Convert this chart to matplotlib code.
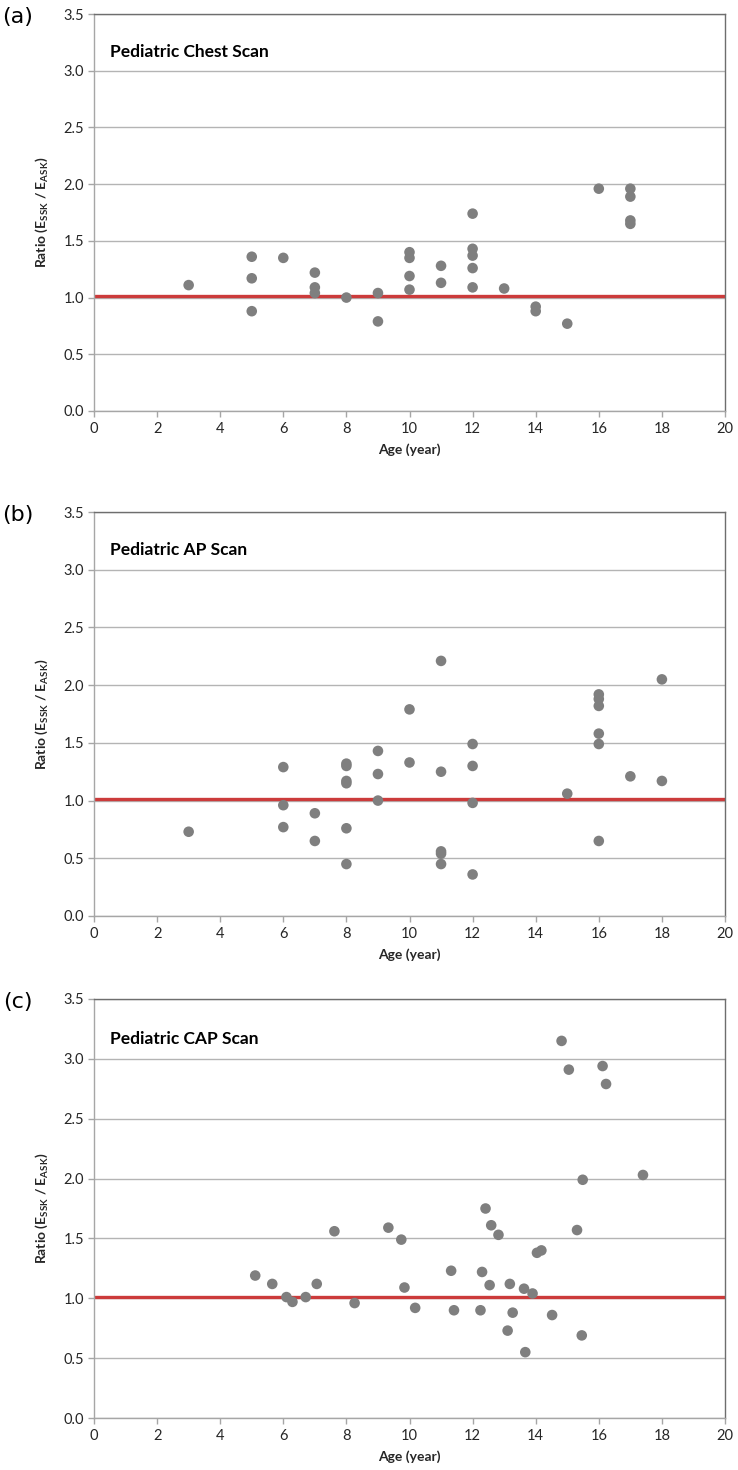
import matplotlib
matplotlib.use("Agg")
import matplotlib.pyplot as plt

# ---------------- data ----------------
chest_age = [3, 5, 5, 5, 6, 7, 7, 7, 8, 9, 9, 10, 10, 10, 10, 11, 11,
             12, 12, 12, 12, 12, 13, 14, 14, 15, 16, 17, 17, 17, 17]
chest_ratio = [1.11, 1.36, 1.17, 0.88, 1.35, 1.22, 1.09, 1.04, 1.00, 1.04, 0.79,
               1.40, 1.35, 1.19, 1.07, 1.28, 1.13, 1.74, 1.43, 1.37, 1.26, 1.09,
               1.08, 0.92, 0.88, 0.77, 1.96, 1.96, 1.89, 1.68, 1.65]

ap_age = [3, 6, 6, 6, 7, 7, 8, 8, 8, 8, 8, 8, 9, 9, 9, 10, 10, 11, 11, 11, 11, 11,
          12, 12, 12, 12, 15, 16, 16, 16, 16, 16, 16, 17, 18, 18]
ap_ratio = [0.73, 1.29, 0.96, 0.77, 0.89, 0.65, 1.32, 1.30, 1.17, 1.15, 0.76, 0.45,
            1.43, 1.23, 1.00, 1.79, 1.33, 2.21, 1.25, 0.56, 0.54, 0.45,
            1.49, 1.30, 0.98, 0.36, 1.06, 1.92, 1.88, 1.82, 1.58, 1.49, 0.65,
            1.21, 2.05, 1.17]

cap_age = [5.11, 5.65, 6.10, 6.29, 6.71, 7.06, 7.62, 8.26, 9.33, 9.74, 9.84, 10.18,
           11.32, 11.41, 12.25, 12.30, 12.41, 12.54, 12.59, 12.82, 13.11, 13.18,
           13.27, 13.63, 13.67, 13.90, 14.04, 14.18, 14.52, 14.82, 15.05, 15.31,
           15.46, 15.49, 16.12, 16.23, 17.40]
cap_ratio = [1.19, 1.12, 1.01, 0.97, 1.01, 1.12, 1.56, 0.96, 1.59, 1.49, 1.09, 0.92,
             1.23, 0.90, 0.90, 1.22, 1.75, 1.11, 1.61, 1.53, 0.73, 1.12,
             0.88, 1.08, 0.55, 1.04, 1.38, 1.40, 0.86, 3.15, 2.91, 1.57,
             0.69, 1.99, 2.94, 2.79, 2.03]

reference_ratio = 1.01
panel_letters = ["(a)", "(b)", "(c)"]
panel_titles = ["Pediatric Chest Scan", "Pediatric AP Scan", "Pediatric CAP Scan"]
x_ticks = list(range(0, 21, 2))
y_ticks = [0.0, 0.5, 1.0, 1.5, 2.0, 2.5, 3.0, 3.5]
x_label = "Age (year)"
y_label = r"Ratio (E$_{\mathbf{SSK}}$ / E$_{\mathbf{ASK}}$)"

# ---------------- figure ----------------
plt.rcParams["font.family"] = ["Lato", "DejaVu Sans"]
plt.rcParams["mathtext.fontset"] = "custom"
plt.rcParams["mathtext.rm"] = "Lato"
plt.rcParams["mathtext.bf"] = "Lato:bold"

W, H = 738, 1470
fig = plt.figure(figsize=(W / 100, H / 100), dpi=100)
fig.patch.set_facecolor("white")

def rect(left, top, right, bottom):
    return [left / W, 1 - bottom / H, (right - left) / W, (bottom - top) / H]

boxes = [(94, 14, 725, 411), (94, 512, 725, 916), (94, 999, 725, 1418)]
datasets = [(chest_age, chest_ratio), (ap_age, ap_ratio), (cap_age, cap_ratio)]

grid_c = "#b4b4b4"
axis_c = "#a6a6a6"
dot_c = "#7f7f7f"
red_c = "#cc3b3b"
txt_c = "#262626"

for i, (box, (xs, ys)) in enumerate(zip(boxes, datasets)):
    ax = fig.add_axes(rect(*box))
    ax.set_xlim(0, 20)
    ax.set_ylim(0, 3.5)
    ax.set_xticks(x_ticks)
    ax.set_yticks(y_ticks)
    ax.set_yticklabels([f"{v:.1f}" for v in y_ticks])
    ax.grid(axis="y", color=grid_c, linewidth=1.0)
    ax.set_axisbelow(True)
    ax.axhline(reference_ratio, color=red_c, linewidth=2.4, zorder=2)
    ax.scatter(xs, ys, s=58, color=dot_c, edgecolors="none", zorder=3)

    for side in ["left", "bottom"]:
        ax.spines[side].set_color(axis_c)
        ax.spines[side].set_linewidth(1.0)
    for side in ["top", "right"]:
        ax.spines[side].set_color("#6e6e6e")
        ax.spines[side].set_linewidth(1.0)

    ax.tick_params(axis="both", direction="out", length=4, width=1.0,
                   color=axis_c, labelsize=10.5, labelcolor=txt_c)
    ax.tick_params(axis="y", pad=3)
    ax.tick_params(axis="x", pad=4)

    ax.set_xlabel(x_label, fontsize=10, fontweight="bold", color=txt_c, labelpad=5)
    ax.set_ylabel(y_label, fontsize=10, fontweight="bold", color=txt_c, labelpad=10)

    ax.text(0.025, 0.905, panel_titles[i], transform=ax.transAxes,
            fontsize=12.5, fontweight="bold", color="black", ha="left", va="center")

    left, top = box[0], box[1]
    fig.text(18 / W, 1 - (top + 3) / H, panel_letters[i], fontsize=16,
             family=["DejaVu Sans"], ha="center", va="center", color="black")

fig.savefig("out.png", dpi=100, facecolor="white")
